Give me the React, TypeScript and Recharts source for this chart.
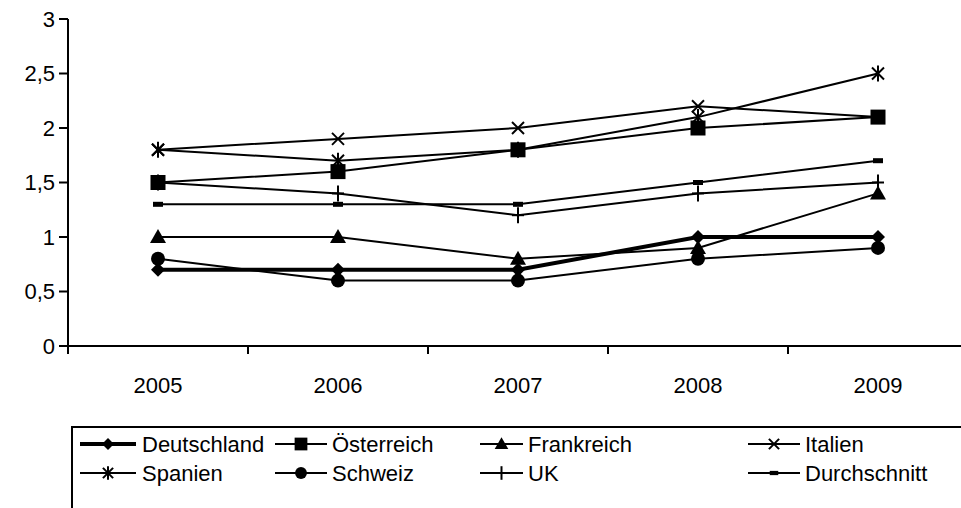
import React from 'react';
import { LineChart, Line, XAxis, YAxis } from 'recharts';

const years = ['2005', '2006', '2007', '2008', '2009'];
const yTicks = [0, 0.5, 1, 1.5, 2, 2.5, 3];

const deutschland = [0.7, 0.7, 0.7, 1.0, 1.0];
const oesterreich = [1.5, 1.6, 1.8, 2.0, 2.1];
const frankreich = [1.0, 1.0, 0.8, 0.9, 1.4];
const italien = [1.8, 1.9, 2.0, 2.2, 2.1];
const spanien = [1.8, 1.7, 1.8, 2.1, 2.5];
const schweiz = [0.8, 0.6, 0.6, 0.8, 0.9];
const uk = [1.5, 1.4, 1.2, 1.4, 1.5];
const durchschnitt = [1.3, 1.3, 1.3, 1.5, 1.7];

const seriesNames = ['Deutschland', 'Österreich', 'Frankreich', 'Italien', 'Spanien', 'Schweiz', 'UK', 'Durchschnitt'];
const seriesValues = [deutschland, oesterreich, frankreich, italien, spanien, schweiz, uk, durchschnitt];
const seriesMarkers = ['diamond', 'square', 'triangle', 'x', 'star', 'circle', 'plus', 'dash'];
const seriesWidths = [4, 2, 2, 2, 2, 2, 2, 2];

const data = years.map((year, i) => {
  const row: Record<string, any> = { year };
  seriesNames.forEach((n, s) => { row[n] = seriesValues[s][i]; });
  return row;
});

const FONT = "'Liberation Sans', Arial, sans-serif";
const FS = 22;

function Marker({ shape, cx, cy, s = 1 }: { shape: string; cx: number; cy: number; s?: number }) {
  if (cx == null || cy == null) return null;
  const k = s;
  switch (shape) {
    case 'diamond':
      return <polygon points={`${cx},${cy - 7 * k} ${cx + 7 * k},${cy} ${cx},${cy + 7 * k} ${cx - 7 * k},${cy}`} fill="#000" />;
    case 'square':
      return <rect x={cx - 7.5 * k} y={cy - 7.5 * k} width={15 * k} height={15 * k} fill="#000" />;
    case 'triangle':
      return <polygon points={`${cx},${cy - 8 * k} ${cx + 8 * k},${cy + 6 * k} ${cx - 8 * k},${cy + 6 * k}`} fill="#000" />;
    case 'circle':
      return <circle cx={cx} cy={cy} r={7 * k} fill="#000" />;
    case 'x':
      return (
        <g stroke="#000" strokeWidth={2}>
          <line x1={cx - 6 * k} y1={cy - 6 * k} x2={cx + 6 * k} y2={cy + 6 * k} />
          <line x1={cx - 6 * k} y1={cy + 6 * k} x2={cx + 6 * k} y2={cy - 6 * k} />
        </g>
      );
    case 'star':
      return (
        <g stroke="#000" strokeWidth={2}>
          <line x1={cx - 6 * k} y1={cy - 6 * k} x2={cx + 6 * k} y2={cy + 6 * k} />
          <line x1={cx - 6 * k} y1={cy + 6 * k} x2={cx + 6 * k} y2={cy - 6 * k} />
          <line x1={cx} y1={cy - 8 * k} x2={cx} y2={cy + 8 * k} />
        </g>
      );
    case 'plus':
      return (
        <g stroke="#000" strokeWidth={2}>
          <line x1={cx} y1={cy - 8 * k} x2={cx} y2={cy + 8 * k} />
          <line x1={cx - 6 * k} y1={cy} x2={cx + 6 * k} y2={cy} />
        </g>
      );
    case 'dash':
      return <rect x={cx - 5 * k} y={cy - 2.5 * k} width={10 * k} height={5 * k} fill="#000" />;
    default:
      return null;
  }
}

const XTick = (props: any) => {
  const { x, y, payload, index } = props;
  const half = 90;
  return (
    <g>
      <line x1={x - half} y1={y} x2={x - half} y2={y + 8} stroke="#000" strokeWidth={2} />
      {index === years.length - 1 && (
        <line x1={x + half} y1={y} x2={x + half} y2={y + 8} stroke="#000" strokeWidth={2} />
      )}
      <text x={x} y={y + 47} textAnchor="middle" fontFamily={FONT} fontSize={FS} fill="#000">
        {payload.value}
      </text>
    </g>
  );
};

// legend layout (page coordinates)
const legendBox = { left: 72, top: 427 };
const legendRowsY = [444, 473];
const legendCols = [
  { x1: 80, x2: 136, tx: 142 },
  { x1: 275, x2: 327, tx: 332 },
  { x1: 480, x2: 523, tx: 528 },
  { x1: 748, x2: 800, tx: 805 },
];

function LegendSvg() {
  return (
    <svg width={961} height={508} style={{ position: 'absolute', left: 0, top: 0, pointerEvents: 'none' }}>
      <rect x={legendBox.left} y={legendBox.top} width={1000} height={200} fill="none" stroke="#000" strokeWidth={2} />
      {seriesNames.map((name, i) => {
        const row = Math.floor(i / 4);
        const col = legendCols[i % 4];
        const y = legendRowsY[row];
        const cx = (col.x1 + col.x2) / 2;
        return (
          <g key={name}>
            <line x1={col.x1} y1={y} x2={col.x2} y2={y} stroke="#000" strokeWidth={seriesWidths[i]} />
            <Marker shape={seriesMarkers[i]} cx={cx} cy={y} s={0.85} />
            <text x={col.tx} y={y + 8} fontFamily={FONT} fontSize={FS} fill="#000">{name}</text>
          </g>
        );
      })}
    </svg>
  );
}

export default function App() {
  return (
    <div style={{ position: 'absolute', left: 0, top: 0, width: 961, height: 508, overflow: 'hidden', background: '#fff' }}>
      <LineChart width={1000} height={508} data={data} margin={{ top: 19, right: 32, bottom: 132, left: 0 }}>
        <XAxis
          dataKey="year"
          height={30}
          padding={{ left: 90, right: 90 }}
          tickLine={false}
          tickSize={0}
          tickMargin={0}
          axisLine={{ stroke: '#000', strokeWidth: 2 }}
          tick={<XTick />}
          interval={0}
        />
        <YAxis
          width={68}
          domain={[0, 3]}
          ticks={yTicks}
          interval={0}
          tickSize={9}
          tickMargin={4}
          tickLine={{ stroke: '#000', strokeWidth: 2 }}
          axisLine={{ stroke: '#000', strokeWidth: 2 }}
          tick={{ fill: '#000', fontSize: FS, fontFamily: FONT }}
          tickFormatter={(v: number) => String(v).replace('.', ',')}
        />
        {seriesNames.map((name, i) => (
          <Line
            key={name}
            type="linear"
            dataKey={name}
            stroke="#000"
            strokeWidth={seriesWidths[i]}
            isAnimationActive={false}
            activeDot={false}
            dot={(p: any) => <Marker key={`${name}-${p.index}`} shape={seriesMarkers[i]} cx={p.cx} cy={p.cy} />}
          />
        ))}
      </LineChart>
      <LegendSvg />
    </div>
  );
}
